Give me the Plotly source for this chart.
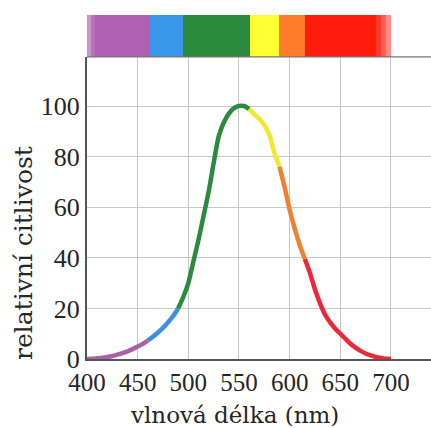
import plotly.graph_objects as go

# ---- data ----
wavelength = [400, 405, 410, 415, 420, 425, 430, 435, 440, 445, 450, 455, 460, 465, 470,
              475, 480, 485, 490, 495, 500, 505, 510, 515, 520, 525, 530, 535, 540, 545,
              550, 555, 560, 565, 570, 575, 580, 585, 590, 595, 600, 605, 610, 615, 620,
              625, 630, 635, 640, 645, 650, 655, 660, 665, 670, 675, 680, 685, 690, 695, 700]
sensitivity = [0, 0.1, 0.3, 0.5, 0.8, 1.2, 1.7, 2.3, 3.0, 3.9, 4.9, 6.0, 7.3, 8.8, 10.5,
               12.3, 14.5, 17.0, 20.0, 24.5, 30.0, 38.5, 47.0, 56.5, 66.0, 77.5, 88.0, 93.5, 97.0, 99.2,
               100.0, 100.0, 98.8, 96.8, 95.0, 92.5, 88.5, 81.5, 76.0, 68.0, 59.0, 51.5, 45.0, 39.5, 34.0,
               27.5, 22.0, 17.5, 14.5, 12.0, 10.0, 8.0, 6.0, 4.5, 3.2, 2.2, 1.4, 0.8, 0.4, 0.1, 0]

# curve colour bands (start, end, colour)
curve_band_start = [400, 460, 490, 560, 590, 615]
curve_band_end = [460, 490, 560, 590, 615, 700]
curve_band_color = ["#a862a8", "#3a90e2", "#2b8a3e", "#f2e830", "#f08032", "#ea2a3a"]

# spectrum strip segments (start, end, colour)
strip_start = [400, 404, 408, 462, 495, 561, 589, 615, 685, 690, 695]
strip_end = [404, 408, 462, 495, 561, 589, 615, 685, 690, 695, 700]
strip_color = ["#cc94cc", "#bb70bb", "#b060b0", "#3a96e8", "#2a8a3e", "#ffff32",
               "#ff7c2a", "#ff1c0c", "#ff3a2e", "#ff5e52", "#ff8c84"]

x_ticks = [400, 450, 500, 550, 600, 650, 700]
y_ticks = [0, 20, 40, 60, 80, 100]
x_title = "vlnová délka (nm)"
y_title = "relativní citlivost"

TICK_FONT = "Liberation Serif"
TITLE_FONT = "DejaVu Serif"
TXT = "#262626"

fig = go.Figure()

# spectrum strip on top
fig.add_trace(go.Bar(
    x=[(s + e) / 2 for s, e in zip(strip_start, strip_end)],
    y=[1] * len(strip_start),
    width=[e - s for s, e in zip(strip_start, strip_end)],
    marker=dict(color=strip_color, line=dict(width=0)),
    xaxis="x", yaxis="y2", showlegend=False, hoverinfo="skip",
))

# coloured sensitivity curve
for s, e, c in zip(curve_band_start, curve_band_end, curve_band_color):
    xs = [w for w in wavelength if s <= w <= e]
    ys = [v for w, v in zip(wavelength, sensitivity) if s <= w <= e]
    fig.add_trace(go.Scatter(
        x=xs, y=ys, mode="lines",
        line=dict(color=c, width=4.5, shape="spline", smoothing=0.6),
        showlegend=False, xaxis="x", yaxis="y",
    ))

fig.update_layout(
    width=431, height=428,
    margin=dict(l=87, r=0, t=15, b=69),
    paper_bgcolor="white", plot_bgcolor="white",
    bargap=0,
    font=dict(family=TICK_FONT, size=24, color=TXT),
    xaxis=dict(
        range=[400, 739.5], tickvals=x_ticks, ticktext=[str(t) for t in x_ticks],
        showgrid=True, gridcolor="#c8c8c8", gridwidth=1,
        showline=True, linecolor="#555555", linewidth=2,
        zeroline=False, ticks="",
        tickfont=dict(family=TICK_FONT, size=25, color=TXT),
        anchor="y", fixedrange=True,
    ),
    yaxis=dict(
        domain=[0, 0.878], range=[0, 119.4], tickvals=y_ticks,
        showgrid=True, gridcolor="#c8c8c8", gridwidth=1,
        showline=True, linecolor="#555555", linewidth=2,
        zeroline=False, ticks="",
        tickfont=dict(family=TICK_FONT, size=26, color=TXT),
        anchor="x", fixedrange=True,
    ),
    yaxis2=dict(
        domain=[0.878, 1.0], range=[0, 1], visible=False, anchor="x", fixedrange=True,
    ),
    shapes=[dict(type="line", xref="paper", yref="paper", x0=0, x1=1, y0=0.878, y1=0.878,
                 line=dict(color="#777777", width=1.2), layer="above")],
    annotations=[
        dict(text=x_title, xref="x", yref="paper", x=546, y=-0.164, showarrow=False,
             xanchor="center", yanchor="middle",
             font=dict(family=TITLE_FONT, size=23, color=TXT)),
        dict(text=y_title, xref="paper", yref="y", x=-0.186, y=41.9, showarrow=False,
             textangle=-90, xanchor="center", yanchor="middle",
             font=dict(family=TITLE_FONT, size=25, color=TXT)),
    ],
)

fig.write_html("out.html", config={"displayModeBar": False},
               post_script="document.body.style.margin='0px';")
